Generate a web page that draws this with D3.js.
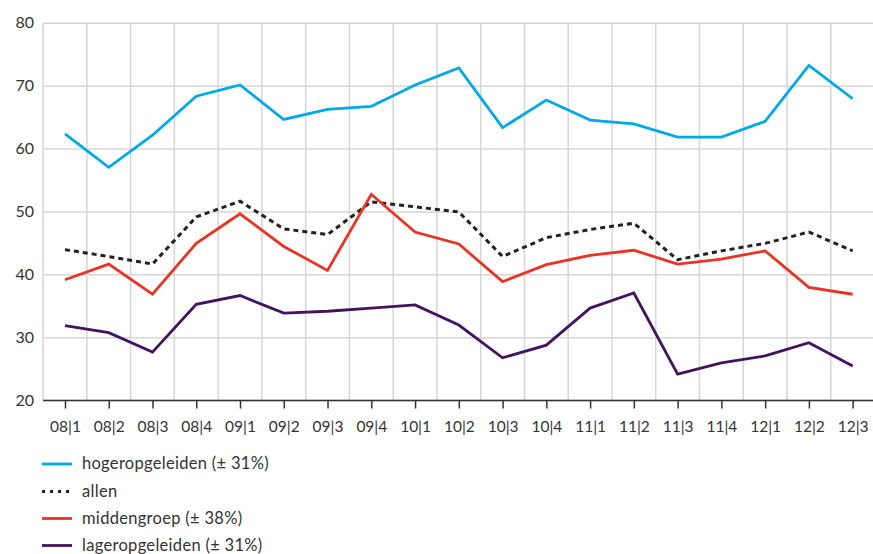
<!DOCTYPE html>
<html><head><meta charset="utf-8">
<script src="https://cdn.jsdelivr.net/npm/d3@7"></script>
<style>body{margin:0;background:#fff}svg{display:block}text{font-family:Lato,"Open Sans",sans-serif;fill:#333}</style>
</head><body><svg id="c" width="873" height="554"></svg>
<script>
const categories=["08|1","08|2","08|3","08|4","09|1","09|2","09|3","09|4","10|1","10|2","10|3","10|4","11|1","11|2","11|3","11|4","12|1","12|2","12|3"];
const hoger=[62.4,57.1,62.2,68.4,70.2,64.7,66.3,66.8,70.2,72.9,63.4,67.8,64.6,64.0,61.9,61.9,64.4,73.3,68.0];
const allen=[44.0,42.9,41.7,49.2,51.7,47.3,46.4,51.6,50.8,50.0,42.9,45.9,47.2,48.2,42.4,43.8,45.0,46.8,43.8];
const midden=[39.2,41.7,36.9,45.0,49.7,44.5,40.7,52.8,46.8,44.9,38.9,41.6,43.1,43.9,41.7,42.5,43.8,38.0,36.9];
const lager=[31.9,30.8,27.7,35.3,36.7,33.9,34.2,34.7,35.2,32.0,26.8,28.8,34.7,37.1,24.2,26.0,27.1,29.2,25.5];
const yTicks=[20,30,40,50,60,70,80];
const seriesNames=["hogeropgeleiden (± 31%)","allen","middengroep (± 38%)","lageropgeleiden (± 31%)"];

const series=[
 {name:seriesNames[0],values:hoger,color:"#01a9e8",dash:null},
 {name:seriesNames[1],values:allen,color:"#222",dash:"5,4"},
 {name:seriesNames[2],values:midden,color:"#ea3324",dash:null},
 {name:seriesNames[3],values:lager,color:"#42145f",dash:null}
];
const svg=d3.select("#c");
const pLeft=43.1, pTop=23.3, pBottom=400.5, bw=43.76;
const x=d3.scaleBand().domain(categories).range([pLeft,pLeft+bw*categories.length]).padding(0);
const y=d3.scaleLinear().domain([20,80]).range([pBottom,pTop]);
const cx=d=>x(d)+x.bandwidth()/2;

// grid
const g=svg.append("g");
g.selectAll("line.h").data(yTicks).join("line")
 .attr("x1",pLeft).attr("x2",873).attr("y1",d=>y(d)).attr("y2",d=>y(d))
 .attr("stroke","#d6d6d6").attr("stroke-width",1.5);
g.selectAll("line.v").data(categories).join("line")
 .attr("x1",d=>x(d)).attr("x2",d=>x(d)).attr("y1",pTop).attr("y2",pBottom)
 .attr("stroke","#d6d6d6").attr("stroke-width",1.5);

// y labels
svg.selectAll("text.yl").data(yTicks).join("text")
 .attr("x",34).attr("y",d=>y(d)+5).attr("text-anchor","end")
 .style("font-size","16px").text(d=>d);

// x axis
const xa=svg.append("g").attr("transform",`translate(0,${pBottom})`)
 .call(d3.axisBottom(d3.scalePoint().domain(categories).range([cx(categories[0]),cx(categories[categories.length-1])])).tickSize(8).tickPadding(12));
xa.select(".domain").attr("d",`M${pLeft},0H873`).attr("stroke","#333").attr("stroke-width",1.5);
xa.selectAll(".tick line").attr("stroke","#333").attr("stroke-width",1.5);
xa.selectAll(".tick text").style("font-size","15.5px").style("font-family","Lato,'Open Sans',sans-serif").attr("fill","#333");

// lines
const line=d3.line().x((d,i)=>cx(categories[i])).y(d=>y(d));
series.forEach(s=>{
 svg.append("path").datum(s.values).attr("d",line).attr("fill","none")
  .attr("stroke",s.color).attr("stroke-width",s.dash?3:2.8)
  .attr("stroke-dasharray",s.dash).attr("stroke-linejoin","miter");
});

// legend
const ly=[464,491.5,518.5,545.5];
series.forEach((s,i)=>{
 svg.append("line").attr("x1",42).attr("x2",72).attr("y1",ly[i]).attr("y2",ly[i])
  .attr("stroke",s.color).attr("stroke-width",s.dash?3:2.8).attr("stroke-dasharray",s.dash?"3,5":null);
 svg.append("text").attr("x",82).attr("y",ly[i]+5).style("font-size","16.5px").style("letter-spacing","0.3px").text(s.name);
});
</script></body></html>
